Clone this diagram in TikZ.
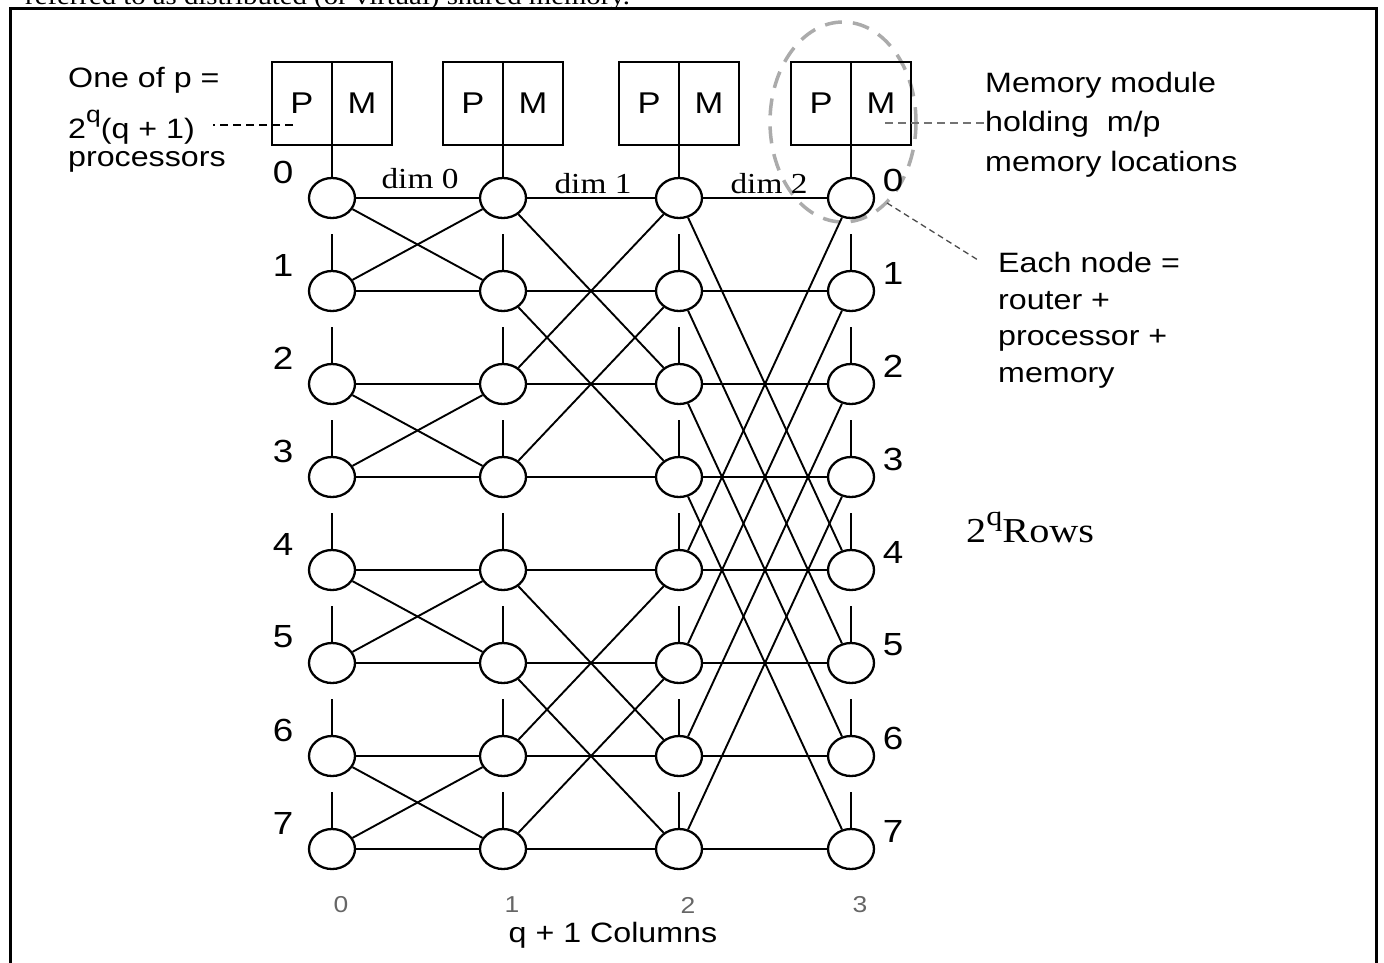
\documentclass[tikz,border=0pt]{standalone}
\usepackage{fontspec}
\newfontfamily\arialfont{Liberation Sans}[FakeStretch=1.15]
\newfontfamily\timesfont{Liberation Serif}[FakeStretch=1.15]
\newcommand\upq[2]{\raisebox{#1}{\fontsize{#2}{#2}\selectfont q}}
\usetikzlibrary{shapes.geometric}
\tikzset{
  router/.style={draw,ellipse,line width=2.3pt,minimum width=46pt,minimum height=40pt,inner sep=0pt},
  pmhalf/.style={draw,line width=2pt,minimum width=60pt,minimum height=83pt,inner sep=0pt,outer sep=0pt,
    font=\arialfont\fontsize{30}{30}\selectfont},
  link/.style={line width=1.9pt},
  leader/.style={line width=1.8pt,dash pattern=on 8pt off 5pt},
  memring/.style={black!33,line width=3.5pt,dash pattern=on 17pt off 11pt},
  rowlab/.style={font=\arialfont\fontsize{32}{32}\selectfont,inner sep=0pt},
  collab/.style={font=\arialfont\fontsize{23}{23}\selectfont,text=black!60,inner sep=0pt},
  dimlab/.style={font=\timesfont\fontsize{29}{29}\selectfont,inner sep=0pt,anchor=base},
  note/.style={font=\arialfont\fontsize{28}{#1}\selectfont,align=left,inner sep=0pt,anchor=north west}
}

\begin{document}
\begin{tikzpicture}[x=1pt,y=-1pt]
  \useasboundingbox (0,0) rectangle (1384,962);
  % page text cut off by the frame
  \node[font=\timesfont\fontsize{25}{25}\selectfont,anchor=base west,inner sep=0pt] (cut) at (25,4)
    {referred to as distributed (or virtual) shared memory.};
  \draw[line width=3pt] (10,975) -- (10,8) -- (1376,8) -- (1376,975);
  \draw[memring] (843,122) ellipse [x radius=73,y radius=100];

  % routers, one column per dimension
  \foreach \c/\x in {0/332,1/503,2/679,3/851} {
    \foreach \r in {0,...,7}
      \node[router] (n\c\r) at (\x,{198+93*\r}) {};
    \node[pmhalf,anchor=south east] (p\c) at (\x,145) {P};
    \node[pmhalf,anchor=south west] (m\c) at (\x,145) {M};
    \draw[link] (n\c0.north) -- (p\c.south east);
    \foreach \r in {1,...,7}
      \draw[link] (n\c\r.north) -- ++(0,-36);
    \node[collab] (col\c) at (\x+9,905) {\c};
  }

  % straight and cross links
  \foreach \c in {0,1,2} {
    \pgfmathtruncatemacro\nx{\c+1}
    \pgfmathtruncatemacro\st{2^\c}
    \foreach \r in {0,...,7} {
      \pgfmathtruncatemacro\bt{mod(floor(\r/\st),2)}
      \pgfmathtruncatemacro\pr{\r+\st*(1-2*\bt)}
      \draw[link] (n\c\r) -- (n\nx\r);
      \draw[link] (n\c\r) -- (n\nx\pr);
    }
  }

  \foreach \r in {0,...,7} {
    \node[rowlab] (ll\r) at (283,{172+93*\r}) {\r};
    \node[rowlab] (rl\r) at (893,{180+93*\r}) {\r};
  }

  \node[dimlab] (dim0) at (420,188) {dim 0};
  \node[dimlab] (dim1) at (593,193) {dim 1};
  \node[dimlab] (dim2) at (769,193) {dim 2};

  \node[note=28pt] (procs) at (68,67)
    {One of p =\\[16pt]2\upq{16pt}{23}(q + 1)\\processors};
  \node[note=39.5pt] (memmod) at (985,72)
    {Memory module\\holding\ \ m/p\\memory locations};
  \node[note=36.7pt] (each) at (998,252)
    {Each node =\\router +\\processor +\\memory};
  \node[font=\timesfont\fontsize{35}{35}\selectfont,anchor=base west,inner sep=0pt] (rows) at (966,542)
    {2\upq{17pt}{28}Rows};
  \node[font=\arialfont\fontsize{28}{28}\selectfont,inner sep=0pt] (cols) at (613,935) {q + 1 Columns};

  \coordinate (pk) at (293,125);
  \coordinate (mk) at (885,123);
  \coordinate (ek) at (887,203);
  \draw[leader] (pk) -- ++(-80,0);
  \draw[leader,black!55] (mk) -- (memmod.west |- mk);
  \draw[leader,black!70,line width=1.3pt,dash pattern=on 6pt off 4pt] (ek) -- (978,260);
\end{tikzpicture}
\end{document}
